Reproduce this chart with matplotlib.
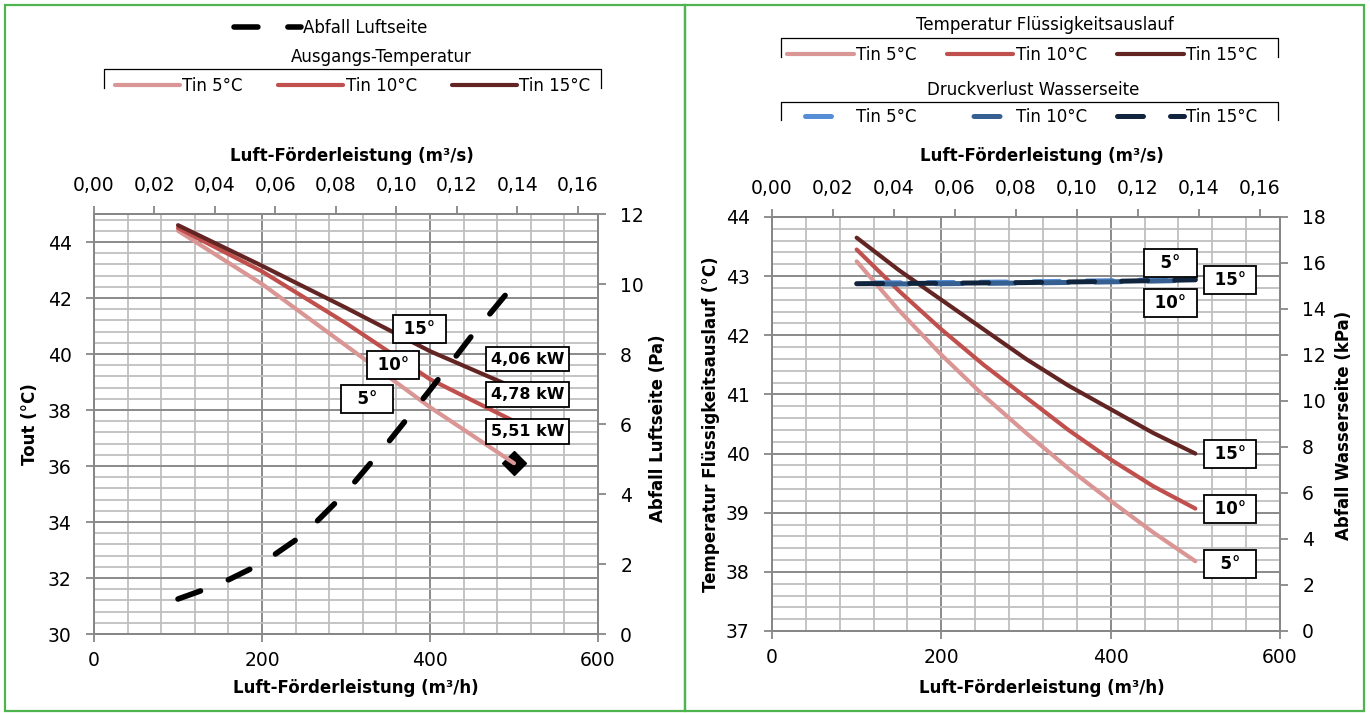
import matplotlib
matplotlib.use("Agg")
import matplotlib.pyplot as plt
import numpy as np
from matplotlib.lines import Line2D
from matplotlib.patches import Rectangle
from matplotlib.ticker import FuncFormatter, MultipleLocator

# ---- data ----
air_flow = [100, 200, 300, 400, 500]                              # m³/h
air_flow_fine = [100, 150, 200, 250, 300, 350, 400, 450, 500]     # m³/h

# left chart: outlet air temperature (°C) and air side pressure drop (Pa)
tout_5 = [44.4, 42.5, 40.3, 38.1, 36.1]
tout_10 = [44.5, 42.95, 41.1, 39.1, 37.6]
tout_15 = [44.6, 43.15, 41.65, 40.1, 38.8]
abfall_luft = [1.0, 1.43, 2.02, 2.85, 4.05, 5.47, 6.97, 8.53, 9.98]
power_labels = ["4,06 kW", "4,78 kW", "5,51 kW"]

# right chart: liquid outlet temperature (°C) and water side pressure drop (kPa)
liquid_5 = [43.25, 42.42, 41.67, 40.98, 40.35, 39.75, 39.2, 38.67, 38.18]
liquid_10 = [43.45, 42.75, 42.1, 41.5, 40.95, 40.4, 39.9, 39.45, 39.07]
liquid_15 = [43.65, 43.1, 42.6, 42.1, 41.6, 41.15, 40.75, 40.35, 40.0]
dp_5 = [15.13, 15.15, 15.18, 15.23, 15.3]
dp_10 = [15.08, 15.1, 15.13, 15.18, 15.25]
dp_15 = [15.1, 15.12, 15.15, 15.2, 15.27]

tin_labels = ["Tin 5°C", "Tin 10°C", "Tin 15°C"]

RED = ["#D99694", "#C0504D", "#632523"]
BLUE = ["#558ED5", "#376092", "#10243E"]
AXIS_GREY = "#878787"
GRID_DARK = "#8a8a8a"
GRID_LIGHT = "#bfbfbf"
GREEN = "#4fb34f"

W, H = 1370, 713
plt.rcParams["font.family"] = ["DejaVu Sans"]


def fig_rect(x0, y0, x1, y1):
    return [x0 / W, 1 - y1 / H, (x1 - x0) / W, (y1 - y0) / H]


def style_panel(ax, ax2, ylim, ystep, yminor, y2lim, y2step):
    ax.set_xlim(0, 600)
    ax.set_ylim(ylim)
    ax.xaxis.set_major_locator(MultipleLocator(200))
    ax.xaxis.set_minor_locator(MultipleLocator(40))
    ax.yaxis.set_major_locator(MultipleLocator(ystep))
    ax.yaxis.set_minor_locator(MultipleLocator(yminor))
    ax.grid(which="major", color=GRID_DARK, lw=1.4)
    ax.grid(which="minor", color=GRID_LIGHT, lw=1.3)
    ax.set_axisbelow(True)
    ax.tick_params(which="minor", length=0)
    ax.tick_params(axis="x", which="major", length=6, width=1.3, color=AXIS_GREY,
                   labelsize=13.5, pad=6)
    ax.tick_params(axis="y", which="major", length=6, width=1.3, color=AXIS_GREY,
                   labelsize=13.5, pad=10)
    ax2.set_ylim(y2lim)
    ax2.yaxis.set_major_locator(MultipleLocator(y2step))
    ax2.tick_params(axis="y", length=6, width=1.3, color=AXIS_GREY, labelsize=13.5, pad=10)
    for a in (ax, ax2):
        for sp in a.spines.values():
            sp.set_color(AXIS_GREY)
            sp.set_linewidth(1.4)
    sec = ax.secondary_xaxis("top", functions=(lambda v: v / 3600, lambda v: v * 3600))
    sec.set_xticks(np.arange(0, 0.161, 0.02))
    sec.xaxis.set_major_formatter(FuncFormatter(lambda v, p: f"{v:.2f}".replace(".", ",")))
    sec.tick_params(length=6, width=1.3, color=AXIS_GREY, labelsize=13.5, pad=8)
    sec.spines["top"].set_color(AXIS_GREY)
    sec.spines["top"].set_linewidth(1.4)


def box_label(ax, x, y, text, transform, size=12):
    ax.text(x, y, text, transform=transform, ha="center", va="center", fontsize=size,
            fontweight="bold", zorder=10,
            bbox=dict(boxstyle="square,pad=0.3", facecolor="white", edgecolor="black", lw=1.3))


def bracket(x0, x1, y_top, y_bot):
    xs = [x0 / W, x0 / W, x1 / W, x1 / W]
    ys = [1 - y_bot / H, 1 - y_top / H, 1 - y_top / H, 1 - y_bot / H]
    fig.add_artist(Line2D(xs, ys, color="black", lw=0.9, transform=fig.transFigure))


fig = plt.figure(figsize=(W / 100, H / 100), dpi=100)

# green panel frames
for x0, x1 in [(5, 685), (685, 1364)]:
    fig.patches.append(Rectangle((x0 / W, 2 / H), (x1 - x0) / W, 706 / H, transform=fig.transFigure,
                                 fill=False, edgecolor=GREEN, lw=1.6))

# ---- left chart ----
ax_l = fig.add_axes(fig_rect(94, 214, 598, 634))
ax_l2 = ax_l.twinx()
style_panel(ax_l, ax_l2, (30, 45), 2, 0.4, (0, 12), 2)

ax_l.plot([air_flow[-1]], [tout_5[-1]], marker="D", ms=12, color="black", zorder=2)
lines_l = []
for vals, col in zip([tout_5, tout_10, tout_15], RED):
    ln, = ax_l.plot(air_flow, vals, color=col, lw=3, solid_capstyle="round", zorder=3)
    lines_l.append(ln)
luft_line, = ax_l2.plot(air_flow_fine, abfall_luft, color="black", lw=4.0,
                        linestyle=(0, (4.3, 5.4)), dash_capstyle="round")

for x, y, s in [(388, 40.9, " 15° "), (356, 39.6, " 10° "), (325, 38.4, "  5°  ")]:
    box_label(ax_l2, x, y, s, ax_l.transData)
for y, s in zip([39.82, 38.55, 37.24], power_labels):
    box_label(ax_l2, 516, y, s, ax_l.transData, size=11.5)

# ---- right chart ----
ax_r = fig.add_axes(fig_rect(772, 217, 1280, 631))
ax_r2 = ax_r.twinx()
style_panel(ax_r, ax_r2, (37, 44), 1, 0.2, (0, 18), 2)

lines_r = []
for vals, col in zip([liquid_5, liquid_10, liquid_15], RED):
    ln, = ax_r.plot(air_flow_fine, vals, color=col, lw=3, solid_capstyle="round", zorder=3)
    lines_r.append(ln)
dashed_r = []
for vals, col, off in zip([dp_5, dp_10, dp_15], BLUE, [7.0, 5.3, 0]):
    ln, = ax_r2.plot(air_flow, vals, color=col, lw=3.6, linestyle=(off, (5.2, 5.4)),
                     dash_capstyle="round")
    dashed_r.append(ln)

box_label(ax_r2, 471, 15.98, "  5°  ", ax_r2.transData)
box_label(ax_r2, 471, 14.28, " 10° ", ax_r2.transData)
box_label(ax_r2, 541, 15.25, " 15° ", ax_r2.transData)
for y, s in zip([40.0, 39.07, 38.14], [" 15° ", " 10° ", "  5°  "]):
    box_label(ax_r2, 541, y, s, ax_r.transData)

# ---- axis titles ----
bold = dict(fontsize=12, fontweight="bold", ha="center", va="center")
fig.text(352 / W, 1 - 156 / H, "Luft-Förderleistung (m³/s)", **bold)
fig.text(356 / W, 1 - 688 / H, "Luft-Förderleistung (m³/h)", **bold)
fig.text(1042 / W, 1 - 156 / H, "Luft-Förderleistung (m³/s)", **bold)
fig.text(1042 / W, 1 - 688 / H, "Luft-Förderleistung (m³/h)", **bold)
fig.text(30 / W, 1 - 424 / H, "Tout (°C)", rotation=90, **bold)
fig.text(658 / W, 1 - 428 / H, "Abfall Luftseite (Pa)", rotation=90, **bold)
fig.text(711 / W, 1 - 424 / H, "Temperatur Flüssigkeitsauslauf (°C)", rotation=90, **bold)
fig.text(1344 / W, 1 - 425 / H, "Abfall Wasserseite (kPa)", rotation=90, **bold)

# ---- legends ----
leg_kw = dict(loc="center left", frameon=False, fontsize=12, handletextpad=0.15,
              borderpad=0, borderaxespad=0)
fig.legend(handles=[luft_line], labels=["Abfall Luftseite"], bbox_to_anchor=(234 / W, 1 - 28 / H),
           handlelength=4.0, **leg_kw)
fig.text(381 / W, 1 - 57 / H, "Ausgangs-Temperatur", fontsize=12, ha="center", va="center")
bracket(104, 601, 69, 88)
fig.legend(handles=lines_l, labels=tin_labels, bbox_to_anchor=(115 / W, 1 - 86 / H), ncol=3,
           handlelength=3.9, columnspacing=2.1, **leg_kw)

fig.text(1045 / W, 1 - 25 / H, "Temperatur Flüssigkeitsauslauf", fontsize=12, ha="center", va="center")
bracket(781, 1278, 38, 57)
fig.legend(handles=lines_r, labels=tin_labels, bbox_to_anchor=(787 / W, 1 - 55 / H), ncol=3,
           handlelength=4.0, columnspacing=1.8, **leg_kw)
fig.text(1033 / W, 1 - 90 / H, "Druckverlust Wasserseite", fontsize=12, ha="center", va="center")
bracket(781, 1278, 102, 120)
fig.legend(handles=dashed_r, labels=tin_labels, bbox_to_anchor=(787 / W, 1 - 117 / H), ncol=3,
           handlelength=4.0, columnspacing=1.8, **leg_kw)

fig.savefig("out.png", dpi=100)
